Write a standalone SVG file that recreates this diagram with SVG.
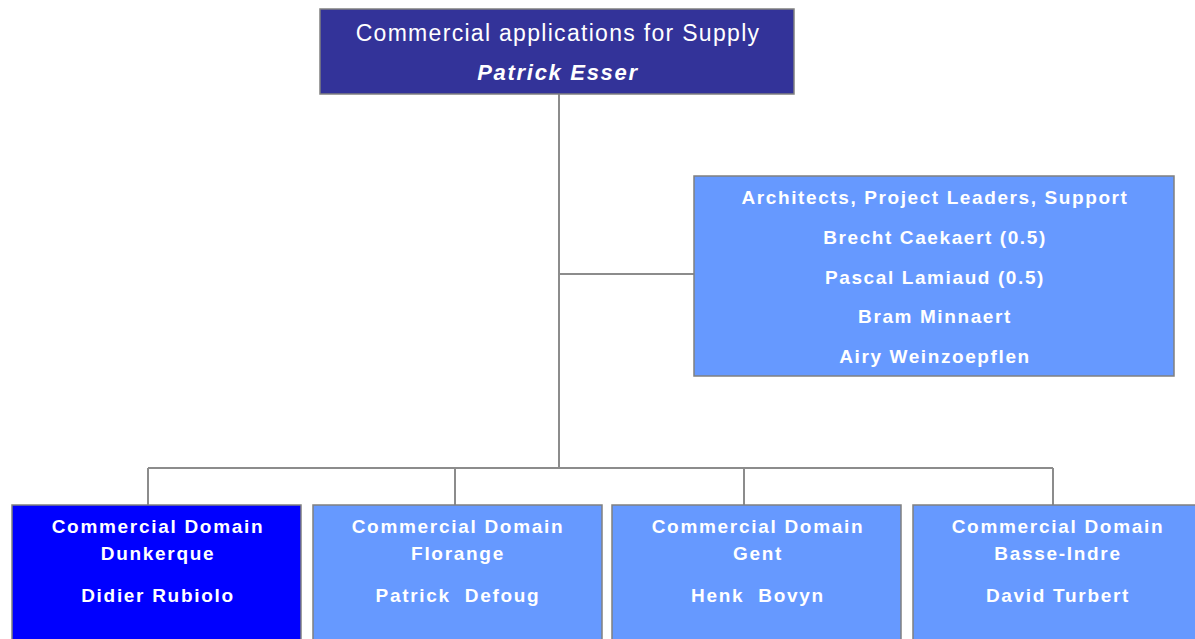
<svg xmlns="http://www.w3.org/2000/svg" width="1195" height="639" viewBox="0 0 1195 639">
<style>
.box{stroke:#808080;stroke-width:1.5}
.dark{fill:#333399}
.light{fill:#6699FF}
.blue{fill:#0000FF}
.conn{stroke:#8c8c8c;stroke-width:2;fill:none}
text{fill:#ffffff;font-family:"Liberation Sans",Arial,sans-serif;text-anchor:middle}
.b{font-weight:bold;font-size:19px;letter-spacing:1.7px}
.r{font-weight:bold;font-size:19px;letter-spacing:1.6px}
</style>
<rect width="1195" height="639" fill="#ffffff"/>
<g id="connectors">
<path class="conn" d="M559 94 V468"/>
<path class="conn" d="M559 274 H694"/>
<path class="conn" d="M148 468 H1053"/>
<path class="conn" d="M148 468 V505"/>
<path class="conn" d="M455 468 V505"/>
<path class="conn" d="M744 468 V505"/>
<path class="conn" d="M1053 468 V505"/>
</g>
<g id="top">
<rect class="box dark" x="320" y="9" width="474" height="85"/>
<text x="558" y="41" font-size="23" letter-spacing="1.3">Commercial applications for Supply</text>
<text x="558" y="80" font-size="22" font-weight="bold" font-style="italic" letter-spacing="1.7">Patrick Esser</text>
</g>
<g id="staff">
<rect class="box light" x="694" y="176" width="480" height="200"/>
<text class="r" x="935" y="204">Architects, Project Leaders, Support</text>
<text class="r" x="935" y="244">Brecht Caekaert (0.5)</text>
<text class="r" x="935" y="284">Pascal Lamiaud (0.5)</text>
<text class="r" x="935" y="323">Bram Minnaert</text>
<text class="r" x="935" y="363">Airy Weinzoepflen</text>
</g>
<g id="dunkerque">
<rect class="box blue" x="12" y="505" width="289" height="150"/>
<text class="b" x="158" y="533">Commercial Domain</text>
<text class="b" x="158" y="560">Dunkerque</text>
<text class="b" x="158" y="602">Didier Rubiolo</text>
</g>
<g id="florange">
<rect class="box light" x="313" y="505" width="289" height="150"/>
<text class="b" x="458" y="533">Commercial Domain</text>
<text class="b" x="458" y="560">Florange</text>
<text class="b" x="458" y="602" xml:space="preserve">Patrick  Defoug</text>
</g>
<g id="gent">
<rect class="box light" x="612" y="505" width="289" height="150"/>
<text class="b" x="758" y="533">Commercial Domain</text>
<text class="b" x="758" y="560">Gent</text>
<text class="b" x="758" y="602" xml:space="preserve">Henk  Bovyn</text>
</g>
<g id="basse-indre">
<rect class="box light" x="913" y="505" width="289" height="150"/>
<text class="b" x="1058" y="533">Commercial Domain</text>
<text class="b" x="1058" y="560">Basse-Indre</text>
<text class="b" x="1058" y="602">David Turbert</text>
</g>
</svg>
